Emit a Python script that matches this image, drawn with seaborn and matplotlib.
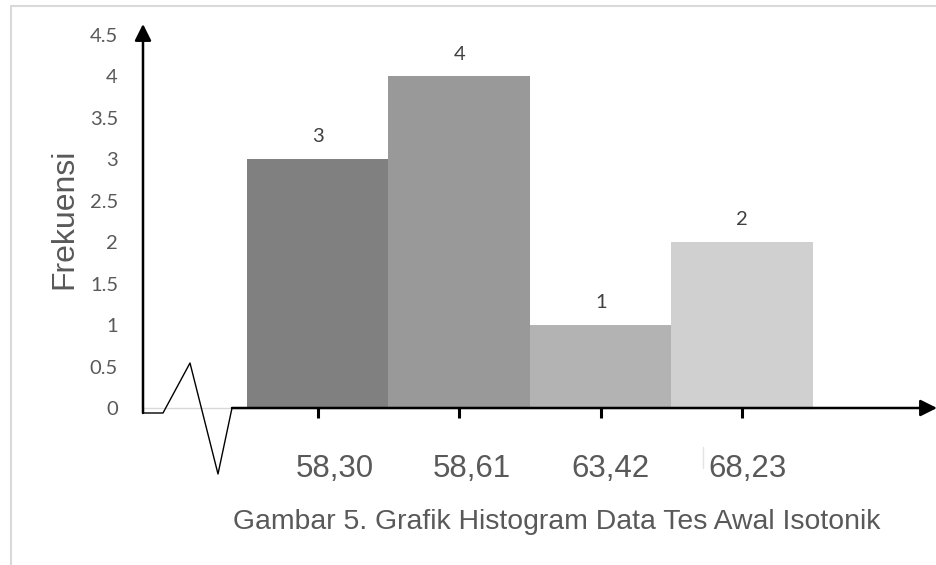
import pandas as pd
import seaborn as sns
import matplotlib.pyplot as plt
from matplotlib.lines import Line2D

# values
kelas = ["58,30", "58,61", "63,42", "68,23"]
frekuensi = [3, 4, 1, 2]
warna = ["#808080", "#999999", "#b3b3b3", "#d0d0d0"]
y_ticks = [0, 0.5, 1, 1.5, 2, 2.5, 3, 3.5, 4, 4.5]
judul = "Gambar 5. Grafik Histogram Data Tes Awal Isotonik"

# layout of the original picture (pixels)
W, H = 937, 565
X0_PX, BAR_PX = 317.75, 141.5   # centre of first bar, width of one bar
Y0_PX, UNIT_PX = 408, 82.9      # zero line, pixels per unit
label_shift = [0.122, 0.090, 0.072, 0.034]  # x labels sit a bit right of the ticks


def px_x(p):
    return (p - X0_PX) / BAR_PX


def px_y(p):
    return (Y0_PX - p) / UNIT_PX


sns.set_style("white")
plt.rcParams['font.family'] = ['Liberation Sans', 'DejaVu Sans']

fig = plt.figure(figsize=(W / 100, H / 100), dpi=100)
ax = fig.add_axes([0, 0, 1, 1])

df = pd.DataFrame({"kelas": kelas, "frekuensi": frekuensi})
sns.barplot(data=df, x="kelas", y="frekuensi", hue="kelas", palette=warna,
            width=1.0, saturation=1, linewidth=0, legend=False, ax=ax, zorder=2)

ax.set_xlim(px_x(0), px_x(W))
ax.set_ylim(px_y(H), px_y(0))

# value labels on the bars
for cont in ax.containers:
    ax.bar_label(cont, padding=10, fontsize=14.5, color="#404040", family="Lato")

for s in ax.spines.values():
    s.set_visible(False)
ax.spines['left'].set_position(('data', px_x(143)))
ax.spines['bottom'].set_position(('data', 0))

# y axis ticks
ax.set_yticks(y_ticks, labels=[f"{v:g}" for v in y_ticks])
ax.tick_params(axis='y', left=False, length=0, pad=18, labelsize=14.5,
               labelcolor="#595959")
for lbl in ax.get_yticklabels():
    lbl.set_fontfamily("Lato")

# x axis: tick marks at bar centres, labels slightly shifted
ax.set_xticks(range(len(kelas)), labels=[""] * len(kelas))
ax.tick_params(axis='x', which='major', bottom=True, direction='inout',
               length=13.7, width=2.2, color='black')
ax.set_xticks([i + s for i, s in enumerate(label_shift)], labels=kelas, minor=True)
ax.tick_params(axis='x', which='minor', bottom=False, length=0, pad=33,
               labelsize=22.5, labelcolor="#595959")
ax.set_xlabel("")

ax.set_ylabel("Frekuensi", fontsize=23, color="#595959")
ax.yaxis.set_label_coords(64 / W, 1 - 219 / H)
ax.yaxis.label.set_verticalalignment('center')

# light zero gridline
ax.plot([px_x(143), px_x(813)], [0, 0], color="#d9d9d9", lw=1, zorder=0)

# arrow axes
arrow = dict(arrowstyle='-|>', lw=1.8, color='black', mutation_scale=25,
             shrinkA=0, shrinkB=0)
ax.annotate("", xy=(px_x(143), px_y(24)), xytext=(px_x(143), px_y(413)),
            arrowprops=arrow, annotation_clip=False, zorder=4)
ax.annotate("", xy=(px_x(937), 0), xytext=(px_x(232), 0),
            arrowprops=arrow, annotation_clip=False, zorder=4)

# axis break zigzag
zz_x = [143, 163, 190, 218, 232]
zz_y = [413, 413, 363, 474, 408]
ax.plot([px_x(p) for p in zz_x], [px_y(p) for p in zz_y], color='black', lw=1,
        clip_on=False, zorder=4)

# faint mark before the last label
ax.plot([px_x(703), px_x(703)], [px_y(447), px_y(468)], color="#e3e3e3", lw=1)

# caption
fig.text(557 / W, 1 - 522 / H, judul, ha='center', va='center', fontsize=20.4,
         color="#595959")

# page frame
fig.add_artist(Line2D([11 / W, 11 / W, 1], [0, 1 - 6 / H, 1 - 6 / H],
                      color="#d9d9d9", lw=1.5, transform=fig.transFigure))

fig.savefig("out.png", dpi=100)
